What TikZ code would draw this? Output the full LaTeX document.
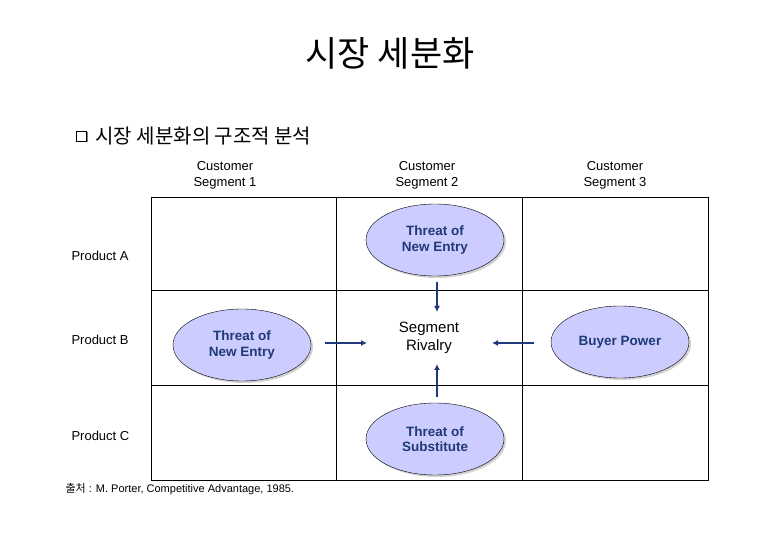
\documentclass[tikz,border=0pt]{standalone}
\usepackage{fontspec}
\setmainfont{Liberation Sans}
\newfontfamily\kr{Noto Sans CJK KR}
\usetikzlibrary{shapes.geometric,arrows.meta,shadows}
\definecolor{navy}{HTML}{1F3A78}
\definecolor{ellfill}{HTML}{CCCCFF}
\tikzset{
  ell/.style={ellipse,draw=black,fill=ellfill,minimum width=138pt,minimum height=72pt,
    text=navy,font=\fontsize{13.5}{15.5}\selectfont\bfseries,align=center,inner sep=0pt,
    drop shadow={shadow xshift=2pt,shadow yshift=-2pt,fill=gray!70}},
  hdr/.style={font=\fontsize{13}{16}\selectfont,align=center},
  lbl/.style={font=\fontsize{13}{15}\selectfont,anchor=west},
  arr/.style={draw=navy,line width=1.3pt,-{Latex[length=6pt,width=6pt]}}
}
\begin{document}
\begin{tikzpicture}[x=1pt,y=-1pt]
\useasboundingbox (0,0) rectangle (780,540);
\node (title) at (390,53) {\kr\fontsize{35}{38}\selectfont 시장 세분화};
\node[draw,fill=white,minimum size=10pt,inner sep=0pt,drop shadow={shadow xshift=1.5pt,shadow yshift=-1.5pt,fill=black}] (box) at (81,136) {};
\node[anchor=west] (sub) at (92,136) {\kr\fontsize{20}{22}\selectfont 시장 세분화의 구조적 분석};
\node[hdr] (h1) at (225,175) {Customer\\Segment 1};
\node[hdr] (h2) at (427,175) {Customer\\Segment 2};
\node[hdr] (h3) at (615,175) {Customer\\Segment 3};
\draw (151,197) rectangle (708,480);
\draw (336,197) -- (336,480) (522,197) -- (522,480);
\draw (151,290) -- (708,290) (151,385) -- (708,385);
\node[lbl] (pa) at (68,256) {Product A};
\node[lbl] (pb) at (68,340) {Product B};
\node[lbl] (pc) at (68,436) {Product C};
\node[ell] (e1) at (435,240) {Threat of\\New Entry};
\node[ell] (e2) at (242,345) {Threat of\\New Entry};
\node[ell] (e3) at (435,439) {Threat of\\Substitute};
\node[ell] (e4) at (620,342) {Buyer Power};
\node[font=\fontsize{15}{18}\selectfont,align=center] (sr) at (429,338) {Segment\\Rivalry};
\coordinate (a1s) at (437,282); \coordinate (a1e) at (437,312);
\coordinate (a2s) at (325,343); \coordinate (a2e) at (367,343);
\coordinate (a3s) at (534,343); \coordinate (a3e) at (492,343);
\coordinate (a4s) at (437,397); \coordinate (a4e) at (437,364);
\draw[arr] (a1s) -- (a1e);
\draw[arr] (a2s) -- (a2e);
\draw[arr] (a3s) -- (a3e);
\draw[arr] (a4s) -- (a4e);
\node[anchor=west,font=\fontsize{11}{13}\selectfont] (src) at (62,489) {{\kr 출처} : M. Porter, Competitive Advantage, 1985.};
\end{tikzpicture}
\end{document}
